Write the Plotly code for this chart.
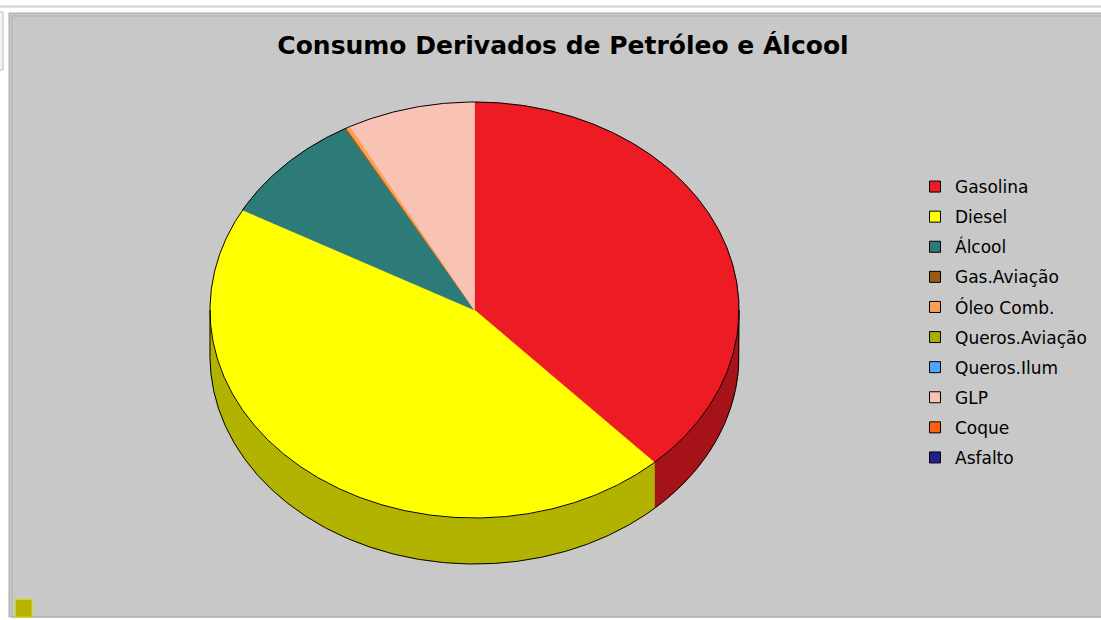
import numpy as np
import plotly.graph_objects as go

categories = ["Gasolina", "Diesel", "Álcool", "Gas.Aviação", "Óleo Comb.",
              "Queros.Aviação", "Queros.Ilum", "GLP", "Coque", "Asfalto"]
values = [38.1, 44.9, 8.87, 0.1, 0.25, 0.0, 0.0, 7.8, 0.0, 0.0]
colors = ["#ED1C24", "#FFFF00", "#2D7B78", "#9C5A10", "#FFA050",
          "#ACAC00", "#4CA8FF", "#F8C2B4", "#FF6010", "#202088"]
title_text = "Consumo Derivados de Petróleo e Álcool"

W, H = 1101, 620
CX, CY, RX, RY, DEPTH = 474.5, 310.0, 264.5, 208.0, 46.0


def darker(hexcol, f=0.7):
    h = hexcol.lstrip("#")
    r, g, b = (int(h[i:i + 2], 16) for i in (0, 2, 4))
    return "#%02X%02X%02X" % (int(r * f), int(g * f), int(b * f))


def ell(t_deg, dy=0.0):
    t = np.radians(np.asarray(t_deg, dtype=float))
    return CX + RX * np.sin(t), CY - RY * np.cos(t) + dy


total = float(sum(values))
starts, ends = [], []
acc = 0.0
for v in values:
    starts.append(acc / total * 360.0)
    acc += v
    ends.append(acc / total * 360.0)

fig = go.Figure()

# side (depth) faces
for name, col, a0, a1 in zip(categories, colors, starts, ends):
    lo, hi = max(a0, 90.0), min(a1, 270.0)
    if hi > lo:
        n = max(2, int((hi - lo) * 2))
        ts = np.linspace(lo, hi, n)
        xt, yt = ell(ts)
        xb, yb = ell(ts[::-1], DEPTH)
        fig.add_trace(go.Scatter(
            x=np.concatenate([xt, xb, xt[:1]]), y=np.concatenate([yt, yb, yt[:1]]),
            mode="lines", fill="toself", fillcolor=darker(col),
            line=dict(width=0.6, color=darker(col)),
            showlegend=False, hoverinfo="skip", legendgroup=name))

# top faces
for name, col, a0, a1, v in zip(categories, colors, starts, ends, values):
    if v <= 0:
        continue
    n = max(2, int((a1 - a0) * 2))
    ts = np.linspace(a0, a1, n)
    xt, yt = ell(ts)
    fig.add_trace(go.Scatter(
        x=np.concatenate([[CX], xt, [CX]]), y=np.concatenate([[CY], yt, [CY]]),
        mode="lines", fill="toself", fillcolor=col,
        line=dict(width=0.6, color=col),
        showlegend=False, name=name, legendgroup=name,
        hovertemplate=name + ": %{text}<extra></extra>",
        text=["%.2f%%" % (v / total * 100)] * (n + 2)))

# outlines
ts = np.linspace(0, 360, 721)
xo, yo = ell(ts)
fig.add_trace(go.Scatter(x=xo, y=yo, mode="lines", line=dict(color="black", width=1),
                         showlegend=False, hoverinfo="skip"))
ts = np.linspace(90, 270, 361)
xb, yb = ell(ts, DEPTH)
xr, yr = ell([90.0])
xl, yl = ell([270.0])
fig.add_trace(go.Scatter(
    x=np.concatenate([xr, xb, xl]), y=np.concatenate([yr, yb, yl]),
    mode="lines", line=dict(color="black", width=1), showlegend=False, hoverinfo="skip"))

# legend entries
for name, col in zip(categories, colors):
    fig.add_trace(go.Scatter(
        x=[None], y=[None], mode="markers", name=name, legendgroup=name,
        marker=dict(symbol="square", size=11, color=col, line=dict(color="black", width=1))))

shapes = [
    dict(type="line", x0=0, x1=W, y0=6.5, y1=6.5, line=dict(color="#D2D2D2", width=2)),
    dict(type="rect", x0=9, x1=W + 5, y0=13, y1=617, fillcolor="#C8C8C8",
         line=dict(color="#A8A8A8", width=1)),
    dict(type="rect", x0=12, x1=W + 5, y0=16, y1=617, fillcolor="rgba(0,0,0,0)",
         line=dict(color="#B0B0B0", width=1)),
    dict(type="rect", x0=-3, x1=3, y0=12, y1=70, fillcolor="#F4F4F4",
         line=dict(color="#B8B8B8", width=1)),
    dict(type="rect", x0=15.5, x1=32, y0=599.5, y1=617, fillcolor="#B4B400",
         line=dict(color="#D8D800", width=1)),
]
for s in shapes:
    s.update(xref="x", yref="y", layer="below")

fig.update_layout(
    width=W, height=H, margin=dict(l=0, r=0, t=0, b=0),
    paper_bgcolor="white", plot_bgcolor="white",
    xaxis=dict(range=[0, W], visible=False, fixedrange=True),
    yaxis=dict(range=[H, 0], visible=False, fixedrange=True),
    shapes=shapes,
    title=dict(text="<b>" + title_text + "</b>", x=563 / W, xanchor="center",
               y=1 - 45 / H, yanchor="middle",
               font=dict(family="DejaVu Sans, sans-serif", size=25, color="black")),
    legend=dict(x=915 / W, y=1 - 169 / H, xanchor="left", yanchor="top",
                bgcolor="rgba(0,0,0,0)", tracegroupgap=5,
                font=dict(family="DejaVu Sans, sans-serif", size=17, color="black")),
    showlegend=True,
)

fig.write_html("out.html")
